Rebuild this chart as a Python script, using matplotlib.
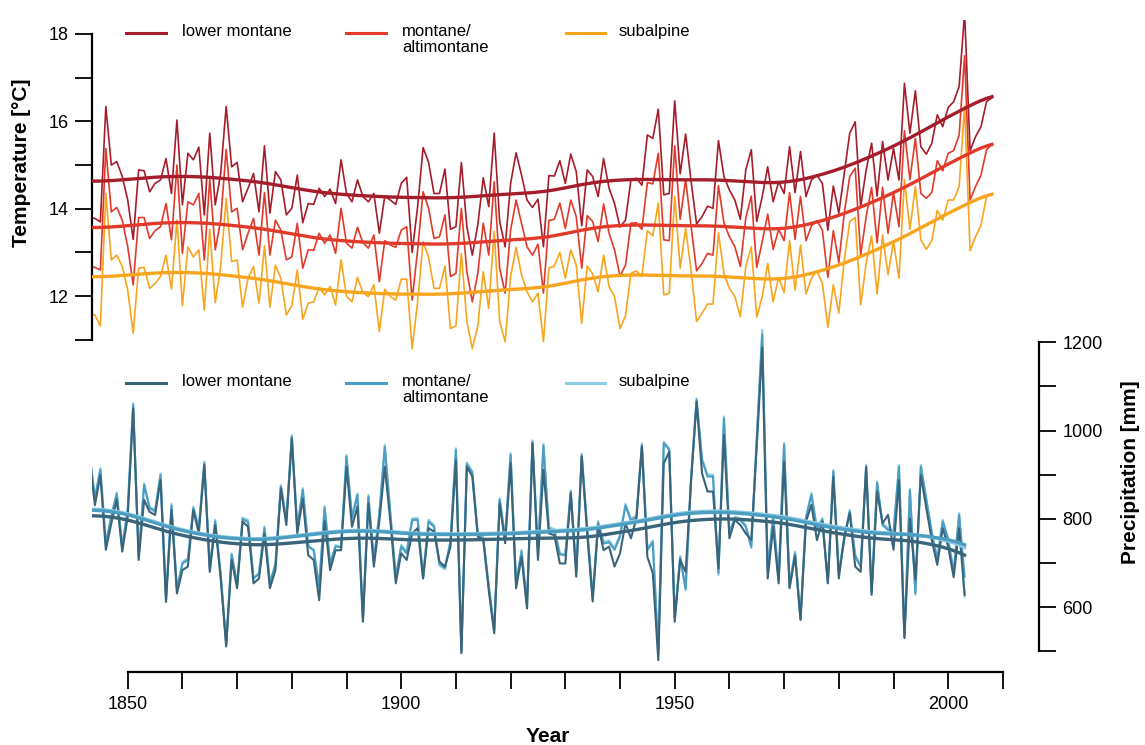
import numpy as np
import matplotlib
matplotlib.use("Agg")
import matplotlib.pyplot as plt
from matplotlib.lines import Line2D

plt.rcParams['font.family'] = ['Liberation Sans', 'DejaVu Sans']

# ── Données : températures annuelles (°C), 1843-2008 ───────────────
annees_t = np.arange(1843, 2009)
temp_lower = [
    13.80, 13.78, 13.70, 16.34, 15.00, 15.08, 14.74,
    14.20, 13.30, 14.89, 14.87, 14.39, 14.58, 14.66, 15.15, 14.35, 16.03,
    14.09, 15.27, 15.12, 15.41, 13.86, 15.73, 14.09, 14.81, 16.34, 14.96,
    15.06, 14.16, 14.47, 14.81, 13.93, 15.44, 13.90, 14.85, 14.66, 13.86,
    14.01, 14.77, 13.68, 14.12, 14.10, 14.47, 14.28, 14.45, 14.12, 15.12,
    14.35, 14.16, 14.66, 14.28, 14.16, 14.35, 13.44, 14.29, 14.20, 14.10,
    14.58, 14.72, 13.00, 14.05, 15.40, 15.06, 14.35, 14.35, 14.91, 13.53,
    13.59, 15.06, 13.59, 12.94, 13.63, 14.71, 14.05, 15.73, 13.71, 13.13,
    14.58, 15.28, 14.77, 14.20, 14.03, 14.22, 13.13, 14.76, 14.75, 15.10,
    14.58, 15.25, 14.85, 13.61, 14.89, 14.74, 14.28, 15.15, 14.47, 14.12,
    13.58, 13.74, 14.66, 14.70, 14.54, 15.69, 15.61, 16.28, 14.32, 14.35,
    16.47, 14.80, 15.71, 14.62, 13.65, 13.82, 14.06, 14.01, 15.56, 14.74,
    14.43, 14.20, 13.76, 14.89, 15.35, 13.71, 14.28, 14.96, 14.16, 14.62,
    14.35, 15.42, 14.37, 15.31, 14.28, 14.66, 14.77, 14.58, 13.51, 14.52,
    13.90, 14.81, 15.73, 15.99, 14.05, 14.89, 15.50, 14.29, 15.54, 14.66,
    15.38, 14.66, 16.87, 15.73, 16.70, 15.42, 15.25, 15.50, 16.15, 15.88,
    16.32, 16.45, 16.80, 18.49, 15.33, 15.65, 15.88, 16.45, 16.54]
temp_montane = [
    12.66, 12.66, 12.60, 15.38, 13.93, 14.03, 13.74,
    13.13, 12.26, 13.80, 13.80, 13.32, 13.50, 13.59, 14.12, 13.29, 15.00,
    12.98, 14.16, 14.09, 14.35, 12.83, 14.67, 13.06, 13.74, 15.36, 13.93,
    14.01, 13.06, 13.44, 13.78, 12.94, 14.37, 12.94, 13.74, 13.51, 12.83,
    12.90, 13.67, 12.64, 13.06, 13.05, 13.44, 13.21, 13.40, 12.98, 14.01,
    13.21, 13.10, 13.58, 13.22, 13.10, 13.40, 12.33, 13.27, 13.17, 13.12,
    13.51, 13.59, 11.91, 13.06, 14.39, 14.01, 13.32, 13.36, 13.86, 12.45,
    12.52, 14.01, 12.56, 11.87, 12.52, 13.67, 12.94, 14.62, 12.64, 12.07,
    13.51, 14.20, 13.67, 13.13, 12.94, 13.19, 12.07, 13.73, 13.76, 14.13,
    13.55, 14.20, 13.82, 12.64, 13.84, 13.71, 13.25, 14.11, 13.44, 13.06,
    12.46, 12.71, 13.67, 13.68, 13.53, 14.60, 14.57, 15.27, 13.29, 13.27,
    15.44, 13.76, 14.67, 13.59, 12.58, 12.75, 12.98, 12.94, 14.53, 13.68,
    13.36, 13.13, 12.68, 13.80, 14.29, 12.66, 13.25, 13.88, 13.07, 13.53,
    13.27, 14.37, 13.30, 14.28, 13.27, 13.61, 13.73, 13.51, 12.43, 13.50,
    12.77, 13.90, 14.74, 14.93, 12.94, 13.82, 14.49, 13.22, 14.49, 13.44,
    14.37, 13.59, 15.79, 14.67, 15.61, 14.35, 14.24, 14.37, 15.10, 14.87,
    15.27, 15.33, 15.69, 17.50, 14.20, 14.51, 14.77, 15.35, 15.48]
temp_subalpine = [
    11.60, 11.57, 11.32, 14.35, 12.83, 12.94, 12.68,
    12.14, 11.15, 12.64, 12.66, 12.18, 12.29, 12.45, 12.94, 12.16, 13.74,
    11.78, 13.13, 12.90, 13.06, 11.68, 13.53, 11.85, 12.69, 14.24, 12.79,
    12.83, 11.75, 12.41, 12.68, 11.84, 13.15, 11.75, 12.71, 12.41, 11.57,
    11.78, 12.60, 11.47, 11.84, 11.87, 12.20, 12.03, 12.22, 11.80, 12.83,
    12.00, 11.87, 12.43, 12.08, 11.99, 12.26, 11.19, 12.16, 11.99, 11.91,
    12.39, 12.39, 10.80, 11.87, 13.25, 12.89, 12.18, 12.18, 12.69, 11.26,
    11.32, 12.98, 11.42, 10.80, 11.32, 12.56, 11.72, 13.48, 11.42, 10.96,
    12.45, 13.12, 12.49, 12.10, 11.87, 12.07, 10.96, 12.64, 12.69, 13.00,
    12.41, 13.06, 12.71, 11.38, 12.69, 12.51, 12.10, 12.94, 12.22, 11.99,
    11.26, 11.55, 12.52, 12.58, 12.45, 13.50, 13.38, 14.13, 12.03, 12.07,
    14.28, 12.64, 13.55, 12.58, 11.42, 11.61, 11.82, 11.82, 13.45, 12.52,
    12.18, 11.99, 11.53, 12.68, 13.13, 11.52, 11.99, 12.75, 11.87, 12.43,
    12.08, 13.27, 12.14, 13.17, 12.05, 12.41, 12.58, 12.29, 11.29, 12.26,
    11.61, 12.83, 13.71, 13.80, 11.80, 12.75, 13.38, 12.05, 13.40, 12.49,
    13.25, 12.41, 14.66, 13.53, 14.51, 13.29, 13.07, 13.27, 13.96, 13.74,
    14.20, 14.20, 14.51, 16.35, 13.04, 13.36, 13.63, 14.28, 14.33]

# ── Données : précipitations annuelles (mm), 1843-2003 ─────────────
annees_p = np.arange(1843, 2004)
prec_lower = [
    941, 831, 899, 730, 790, 844, 726,
    805, 1050, 707, 843, 816, 809, 888, 612, 820, 631,
    684, 692, 820, 767, 922, 680, 786, 665, 511, 707,
    643, 794, 782, 654, 665, 767, 643, 684, 869, 786,
    982, 767, 846, 718, 707, 616, 795, 684, 729, 729,
    918, 782, 828, 567, 835, 692, 795, 918, 797, 654,
    722, 707, 767, 779, 665, 779, 771, 703, 692, 737,
    933, 496, 918, 896, 760, 752, 639, 541, 835, 745,
    926, 643, 714, 597, 971, 707, 911, 767, 763, 699,
    699, 858, 669, 941, 767, 613, 786, 729, 737, 692,
    722, 790, 756, 801, 964, 714, 677, 480, 926, 952,
    567, 707, 680, 888, 1065, 903, 862, 862, 688, 990,
    756, 798, 786, 767, 752, 965, 1188, 665, 782, 654,
    930, 643, 716, 571, 794, 832, 752, 794, 654, 896,
    665, 760, 813, 692, 680, 917, 628, 862, 790, 809,
    730, 888, 530, 801, 662, 899, 824, 752, 696, 779,
    737, 668, 779, 628]
prec_montane = [
    949, 846, 911, 742, 805, 856, 736,
    820, 1058, 717, 877, 824, 817, 899, 620, 830, 641,
    699, 707, 824, 777, 926, 690, 794, 675, 516, 719,
    653, 799, 793, 666, 675, 779, 655, 696, 873, 796,
    986, 779, 866, 737, 730, 646, 825, 699, 737, 737,
    941, 801, 854, 575, 850, 707, 810, 963, 812, 669,
    737, 722, 797, 798, 669, 794, 782, 698, 689, 747,
    956, 501, 924, 904, 763, 755, 649, 549, 843, 755,
    945, 653, 726, 607, 974, 722, 966, 777, 773, 719,
    719, 861, 681, 944, 777, 623, 791, 744, 747, 730,
    760, 830, 796, 804, 967, 729, 747, 495, 971, 956,
    577, 712, 642, 891, 1069, 933, 896, 896, 678, 1028,
    767, 801, 797, 782, 737, 980, 1218, 684, 805, 662,
    968, 647, 722, 575, 802, 855, 775, 798, 658, 907,
    676, 752, 817, 715, 691, 919, 632, 881, 786, 775,
    768, 918, 533, 865, 632, 918, 843, 767, 707, 794,
    752, 677, 809, 669]
prec_subalpine = [
    952, 849, 915, 745, 808, 860, 739,
    824, 1062, 714, 880, 827, 820, 903, 617, 834, 638,
    702, 711, 828, 780, 930, 687, 798, 672, 519, 722,
    650, 803, 797, 663, 679, 783, 652, 700, 877, 800,
    990, 776, 870, 741, 727, 650, 829, 696, 741, 734,
    945, 805, 858, 572, 854, 704, 814, 968, 815, 666,
    741, 726, 801, 802, 666, 798, 786, 694, 686, 751,
    960, 498, 928, 908, 767, 759, 646, 546, 847, 759,
    949, 650, 730, 604, 978, 726, 970, 781, 777, 723,
    716, 865, 678, 948, 781, 620, 795, 748, 751, 734,
    764, 834, 800, 808, 971, 733, 751, 492, 975, 960,
    574, 716, 638, 895, 1073, 937, 900, 900, 673, 1032,
    771, 805, 801, 786, 734, 984, 1228, 688, 809, 666,
    972, 651, 726, 572, 806, 859, 779, 802, 655, 911,
    680, 756, 821, 719, 695, 923, 636, 885, 790, 779,
    772, 922, 536, 868, 628, 922, 847, 771, 711, 798,
    756, 681, 813, 624]

noms = ['lower montane', 'montane/\naltimontane', 'subalpine']
couleurs_t = ['#a51d2b', '#e23a2a', '#f8a51e']
couleurs_p = ['#3a6479', '#4c9dc2', '#8ccbe3']


# ── Lissage (loess local linéaire, poids tricube) ──────────────────
# la série est coupée à gauche par l'axe : on la prolonge en miroir
# pour le calcul, le bord droit reste un vrai bord
def loess(x, y, demi_fenetre=26, deg=1):
    x = np.asarray(x, float)
    y = np.asarray(y, float)
    xm = np.concatenate([2 * x[0] - x[:0:-1], x])
    ym = np.concatenate([y[:0:-1], y])
    res = []
    for x0 in x:
        d = np.abs(xm - x0) / demi_fenetre
        w = np.clip(1 - d**3, 0, None)**3
        coef = np.polyfit(xm - x0, ym, deg, w=np.sqrt(w))
        res.append(coef[-1])
    return np.array(res)


# ── Figure (pixels -> fractions) ───────────────────────────────────
W, H = 1145, 745
fig = plt.figure(figsize=(W / 100, H / 100), dpi=100)
def fx(px): return px / W
def fy(py): return 1 - py / H

ax_t = fig.add_axes([fx(92), fy(672), fx(1039) - fx(92), fy(20) - fy(672)])
ax_p = ax_t.twinx()

ax_t.set_xlim(1843.47, 2016.6)
ax_t.set_ylim(3.40, 18.32)
ax_p.set_ylim(453.2, 1930.0)

series_t = [temp_lower, temp_montane, temp_subalpine]
for serie, c in zip(series_t, couleurs_t):
    ax_t.plot(annees_t, serie, color=c, lw=1.2, zorder=2)
for serie, c in zip(series_t, couleurs_t):
    ax_t.plot(annees_t, loess(annees_t, serie), color=c, lw=2.4, zorder=3)

series_p = [prec_lower, prec_montane, prec_subalpine]
for serie, c in list(zip(series_p, couleurs_p))[::-1]:
    ax_p.plot(annees_p, serie, color=c, lw=1.5, zorder=2)
for serie, c in list(zip(series_p, couleurs_p))[::-1]:
    ax_p.plot(annees_p, loess(annees_p, serie), color=c, lw=2.4, zorder=3)

# ── Axes ───────────────────────────────────────────────────────────
for s in ['top', 'right']:
    ax_t.spines[s].set_visible(False)
for s in ['top', 'left', 'bottom']:
    ax_p.spines[s].set_visible(False)
ax_t.spines['left'].set_bounds(11, 18)
ax_t.spines['bottom'].set_bounds(1850, 2010)
ax_p.spines['right'].set_bounds(500, 1200)
for sp in [ax_t.spines['left'], ax_t.spines['bottom'], ax_p.spines['right']]:
    sp.set_linewidth(1.6)

ax_t.set_yticks(range(11, 19))
ax_t.set_yticklabels([str(v) if v % 2 == 0 else '' for v in range(11, 19)])
ax_t.set_xticks(range(1850, 2011, 10))
ax_t.set_xticklabels([str(v) if v % 50 == 0 and v < 2010 else '' for v in range(1850, 2011, 10)])
ax_p.set_yticks(range(500, 1201, 100))
ax_p.set_yticklabels([str(v) if v % 200 == 0 else '' for v in range(500, 1201, 100)])

ax_t.tick_params(axis='both', direction='out', length=12, width=1.3, labelsize=13, pad=5)
ax_p.tick_params(axis='y', direction='out', length=12, width=1.3, labelsize=13, pad=5)

fig.text(fx(22), fy(163), 'Temperature [°C]', rotation=90, ha='center', va='center',
         fontsize=15, fontweight='bold')
fig.text(fx(1131), fy(472), 'Precipitation [mm]', rotation=90, ha='center', va='center',
         fontsize=15, fontweight='bold')
fig.text(fx(548), fy(737), 'Year', ha='center', va='center', fontsize=15, fontweight='bold')

# ── Légendes ───────────────────────────────────────────────────────
def legende(y_ligne, couleurs):
    xs = [(126, 166, 182), (346, 386, 402), (566, 605, 619)]
    for (x0, x1, xt), nom, c in zip(xs, noms, couleurs):
        fig.add_artist(Line2D([fx(x0), fx(x1)], [fy(y_ligne), fy(y_ligne)],
                              color=c, lw=2.2, transform=fig.transFigure))
        fig.text(fx(xt), fy(y_ligne - 9), nom, ha='left', va='top',
                 fontsize=12, linespacing=1.1)

legende(33, couleurs_t)
legende(383, couleurs_p)

plt.savefig("out.png", dpi=100)
